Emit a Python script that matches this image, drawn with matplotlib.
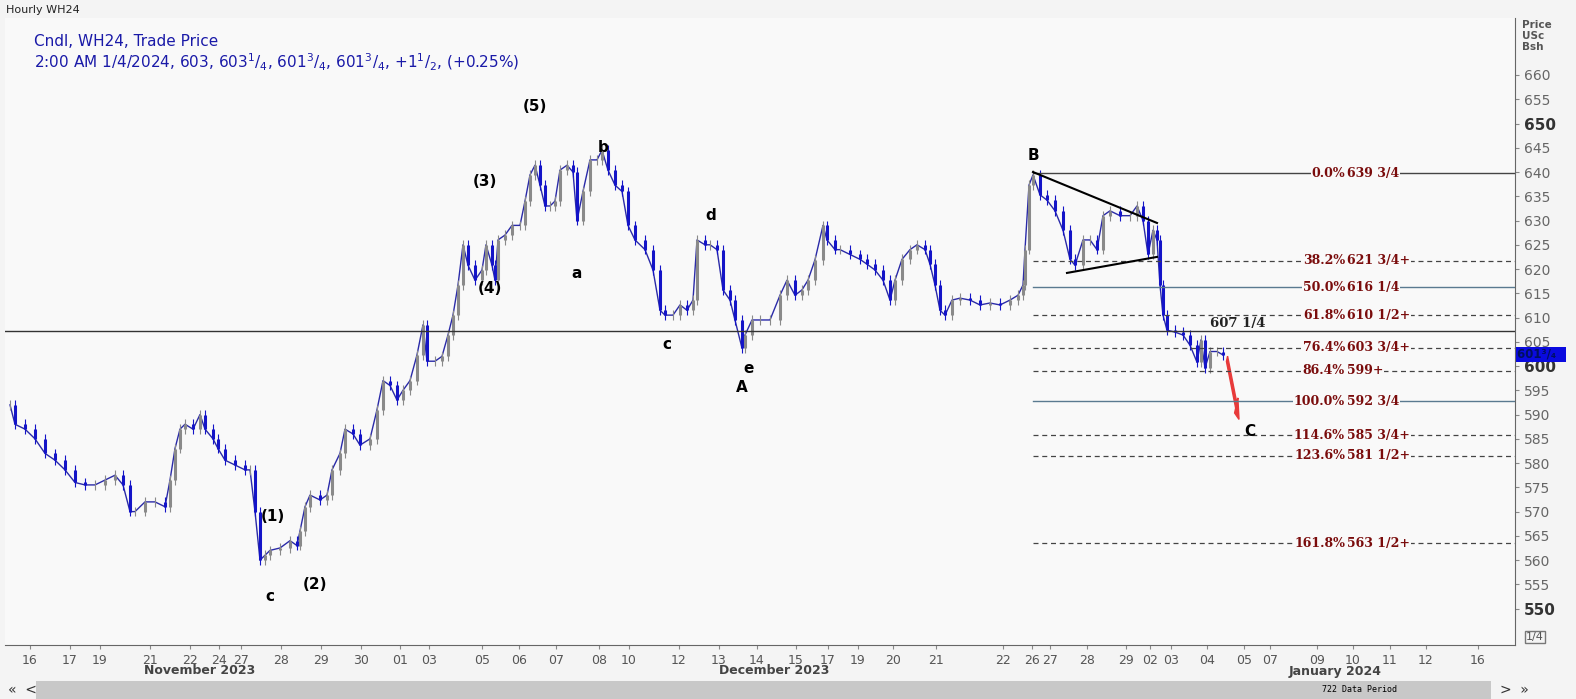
import matplotlib.pyplot as plt
import numpy as np
from matplotlib.patches import Rectangle, FancyArrow

# time axis in chart units (roughly trading hours scaled), closes
t = [5, 10, 20, 30, 40, 50, 60, 70, 80, 90, 100, 110, 118, 125, 130, 140, 150, 160, 165, 170,
     175, 180, 188, 195, 200, 208, 213, 220, 230, 240, 245, 250, 255, 260, 265, 275, 285, 292, 295, 300,
     305, 315, 322, 327, 335, 340, 348, 355, 365, 372, 378, 385, 392, 398, 405, 412, 418, 422, 430, 437,
     443, 448, 453, 458, 463, 470, 477, 481, 487, 490, 493, 500, 507, 515, 520, 525, 530, 535, 540, 545,
     550, 555, 562, 568, 572, 578, 585, 592, 597, 603, 610, 617, 623, 630, 640, 648, 655, 660, 668, 675,
     682, 688, 692, 700, 705, 712, 718, 725, 730, 737, 740, 747, 755, 765, 775, 782, 790, 797, 803, 810,
     818, 822, 830, 835, 845, 855, 862, 870, 878, 885, 890, 897, 905, 912, 920, 925, 930, 935, 940, 947,
     955, 965, 975, 985, 995, 1005, 1013, 1018, 1020, 1024, 1028, 1035, 1042, 1050, 1058, 1065, 1070, 1078, 1085, 1092,
     1098, 1105, 1115, 1125, 1132, 1138, 1143, 1148, 1152, 1155, 1158, 1162, 1170, 1178, 1185, 1192, 1196, 1200, 1205, 1212,
     1218]
close = [592, 588, 587, 585, 582, 580.6, 578.6, 576, 575.5, 575.5, 576.5, 577.5, 575.5, 570, 570, 572, 572, 571, 576.5, 583,
         587, 588, 587, 590, 587, 585, 583, 580.6, 579.6, 578.6, 578.6, 570, 560, 561, 562, 562.5, 564, 563, 566, 571,
         573.4, 572.4, 573.4, 578.6, 582, 587, 586, 583.7, 585, 591, 597, 596, 593, 595, 597, 602.3, 608.5, 601, 601, 602,
         606.4, 610.5, 616.7, 625, 620.8, 617.7, 619.8, 625, 620.8, 617.7, 626, 627, 629, 629, 634, 639.4, 641.4, 637.3, 633, 633,
         634, 640.4, 641.4, 640, 630, 636, 642.5, 642.5, 644.5, 640.4, 637.3, 636, 629, 626, 624, 619.8, 611.5, 610.5, 610.5, 612.6,
         611.5, 613.6, 626, 625, 625, 624, 615.7, 613.6, 609.5, 603.7, 606.4, 609.5, 609.5, 609.5, 614.6, 617.7, 614.6, 615.7, 617.7, 621.9,
         629, 626, 624, 624, 623, 622, 621, 619.8, 617.7, 613.6, 617.7, 622, 624, 625, 624, 621, 616.7, 611.5, 610.5, 613.6,
         614, 613.6, 612.6, 613, 612.6, 613.6, 614.6, 616.7, 624, 637.3, 639.4, 635.3, 634.2, 632, 628, 622, 620.8, 626, 626, 624,
         631, 632, 631, 631, 633, 630, 623, 628, 626, 616.7, 610.5, 607.4, 607, 606.4, 604.3, 600.8, 605.4, 599.6, 603, 603,
         602.3]

tick_pos = [25, 65, 95, 145, 185, 214, 236, 276, 316, 356, 395, 424, 477, 514, 551, 594, 624, 674, 714, 752,
            791, 823, 853, 888, 931, 998, 1027, 1045, 1082, 1121, 1145, 1166, 1202, 1239, 1265, 1312, 1348, 1385, 1421, 1473]
tick_lab = ['16', '17', '19', '21', '22', '24', '27', '28', '29', '30', '01', '03', '05', '06', '07', '08', '10', '12', '13', '14',
            '15', '17', '19', '20', '21', '22', '26', '27', '28', '29', '02', '03', '04', '05', '07', '09', '10', '11', '12', '16']

fib_pct = ['0.0%', '38.2%', '50.0%', '61.8%', '76.4%', '86.4%', '100.0%', '114.6%', '123.6%', '161.8%']
fib_val = [639.75, 621.75, 616.25, 610.5, 603.75, 599.0, 592.75, 585.75, 581.5, 563.5]
fib_txt = ['639 3/4', '621 3/4+', '616 1/4', '610 1/2+', '603 3/4+', '599+', '592 3/4', '585 3/4+', '581 1/2+', '563 1/2+']
fib_solid = [True, False, True, False, False, False, True, False, False, False]

waves = [('(5)', 530, 653.5), ('b', 598, 645), ('(3)', 480, 638), ('(4)', 485, 616), ('a', 572, 619),
         ('d', 706, 631), ('c', 662, 604.5), ('e', 744, 599.5), ('A', 737, 595.5), ('B', 1028, 643.5),
         ('(1)', 268, 569), ('c', 265, 552.5), ('(2)', 310, 555), ('C', 1245, 586.5)]

fig = plt.figure(figsize=(15.76, 6.99), dpi=100)
fig.patch.set_facecolor('#f4f4f4')
ax = fig.add_axes([5 / 1576, 54 / 699, 1510 / 1576, 627 / 699])
ax.set_facecolor('#f9f9f9')
ax.set_xlim(0, 1510)
ax.set_ylim(542.5, 671.75)

# candles: open = previous close, thin bars
opens = [close[0]] + close[:-1]
ax.plot(t, close, color='#2a2aa8', lw=1.0)
for i in range(len(t)):
    col = '#1414c8' if close[i] < opens[i] else '#8a8a8a'
    lo, hi = min(opens[i], close[i]), max(opens[i], close[i])
    ax.vlines(t[i], lo - 1.0, hi + 1.0, color=col, lw=0.8)
    ax.vlines(t[i], lo, hi, color=col, lw=2.2)

# horizontal reference line
ax.axhline(607.25, color='#333333', lw=1)
ax.text(1205, 608, '607 1/4', fontsize=9.5, fontweight='bold', family='DejaVu Serif', color='#222222')

# fibonacci levels
for p, v, s, solid in zip(fib_pct, fib_val, fib_txt, fib_solid):
    if solid:
        ax.plot([1028, 1510], [v, v], color='#5a7a90' if p != '0.0%' else '#444444', lw=1)
    else:
        ax.plot([1028, 1510], [v, v], color='#444444', lw=0.9, ls=(0, (4, 3)))
    ax.text(1340, v, p, ha='right', va='center', fontsize=9, fontweight='bold',
            family='DejaVu Serif', color='#7a0c0c', bbox=dict(fc='#f9f9f9', ec='none', pad=0.5))
    ax.text(1342, v, s, ha='left', va='center', fontsize=9, fontweight='bold',
            family='DejaVu Serif', color='#7a0c0c', bbox=dict(fc='#f9f9f9', ec='none', pad=0.5))

# triangle
ax.plot([1028, 1152], [640, 629.5], color='black', lw=1.5)
ax.plot([1062, 1152], [619.2, 622.5], color='black', lw=1.5)

# forecast arrow
ax.add_patch(FancyArrow(1222, 601.5, 12, -12.5, width=1.6, head_width=4.5, head_length=4,
                        color='#e83a3a', length_includes_head=True))

for s, x, y in waves:
    ax.text(x, y, s, ha='center', va='center', fontsize=11, fontweight='bold')

# axes styling
ax.yaxis.tick_right()
yt = np.arange(550, 665, 5)
ax.set_yticks(yt)
ax.set_yticklabels([str(v) for v in yt], color='#666666', fontsize=10)
for lab, v in zip(ax.get_yticklabels(), yt):
    if v % 50 == 0:
        lab.set_fontweight('bold')
        lab.set_fontsize(11)
        lab.set_color('#333333')
ax.set_xticks(tick_pos)
ax.set_xticklabels(tick_lab, color='#555555', fontsize=9)
ax.tick_params(length=3, color='#888888')
for sp in ['top', 'left']:
    ax.spines[sp].set_visible(False)
ax.spines['right'].set_color('#666666')
ax.spines['bottom'].set_color('#666666')

# current price tag (covers the 600 label like in the source platform)
ax.text(1512, 602.4, '601\u00b3/\u2084  ', color='#001060', fontsize=8.5, fontweight='bold', va='center',
        bbox=dict(boxstyle='square,pad=0.1', fc='#0a0adf', ec='none'), clip_on=False, zorder=10)
fig.text(1522 / 1576, 1 - 20 / 699, 'Price\nUSc\nBsh', fontsize=7.5, fontweight='bold', color='#555555',
         va='top', linespacing=1.15)

# header texts
fig.text(6 / 1576, 1 - 10 / 699, 'Hourly WH24', fontsize=8, va='center', color='#222222')
fig.text(34 / 1576, 1 - 42 / 699, 'Cndl, WH24, Trade Price', fontsize=11, color='#1a1aa8', va='center')
fig.text(34 / 1576, 1 - 62 / 699,
         '2:00 AM 1/4/2024, 603, 603$^{1}$/$_{4}$, 601$^{3}$/$_{4}$, 601$^{3}$/$_{4}$, +1$^{1}$/$_{2}$, (+0.25%)',
         fontsize=11, color='#1a1aa8', va='center')

# month labels and scroll bar
for name, xm in [('November 2023', 200), ('December 2023', 774), ('January 2024', 1335)]:
    fig.text(xm / 1576, 1 - 671 / 699, name, fontsize=9, fontweight='bold', color='#444444',
             ha='center', va='center')
fig.patches.append(Rectangle((36 / 1576, 0), 1455 / 1576, 18 / 699, transform=fig.transFigure,
                             fc='#c8c8c8', ec='none'))
fig.text(1360 / 1576, 9 / 699, '722 Data Period', fontsize=6, family='DejaVu Sans Mono', va='center', ha='center')
fig.text(8 / 1576, 9 / 699, '\u00ab  <', fontsize=10, va='center', color='#333333')
fig.text(1500 / 1576, 9 / 699, '>  \u00bb', fontsize=10, va='center', color='#333333')
fig.text(1526 / 1576, 1 - 637 / 699, '1/4', fontsize=8, color='#555555', va='center',
         bbox=dict(boxstyle='square,pad=0.1', fc='none', ec='#777777'))

fig.savefig('out.png', dpi=100, facecolor=fig.get_facecolor())
